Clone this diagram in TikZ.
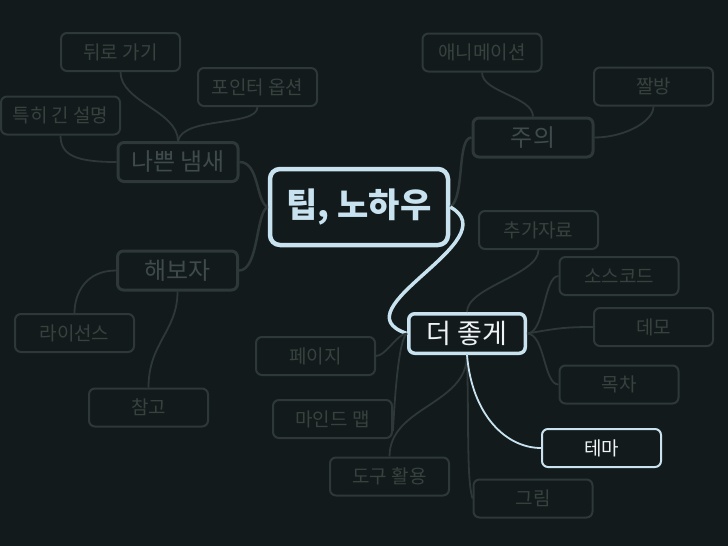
\documentclass[tikz,border=0pt]{standalone}
\usepackage{fontspec}
\setmainfont{Noto Sans CJK KR}
\definecolor{bgc}{HTML}{131A1B}
\definecolor{dimline}{HTML}{2E3839}
\definecolor{dimtexta}{HTML}{3E4A4B}
\definecolor{dimtextb}{HTML}{37423F}
\definecolor{lightb}{HTML}{C8E3EF}
\definecolor{whitet}{HTML}{EEF4F6}
\begin{document}
\begin{tikzpicture}[x=1pt,y=-1pt,
  lvtwo/.style={draw=dimline, line width=2pt, rounded corners=6pt, fill=bgc, text=dimtextb,
    minimum width=119pt, minimum height=38pt, inner sep=0pt, font=\fontsize{19}{22}\selectfont},
  lvone/.style={draw=dimline, line width=3pt, rounded corners=6pt, fill=bgc, text=dimtexta,
    minimum width=120pt, minimum height=39pt, inner sep=0pt, font=\fontsize{24}{27}\selectfont},
  rootbox/.style={draw=lightb, line width=4.5pt, rounded corners=10pt, fill=bgc, text=lightb,
    minimum width=178pt, minimum height=76pt, inner sep=0pt, font=\fontsize{34}{38}\selectfont\bfseries},
  activeone/.style={lvone, draw=lightb, line width=3.5pt, text=whitet,
    minimum width=116.5pt, minimum height=39.5pt, font=\fontsize{27}{30}\selectfont},
  activetwo/.style={lvtwo, draw=lightb, line width=2pt, text=whitet},
  linkone/.style={draw=dimline, line width=2.5pt},
  linktwo/.style={draw=dimline, line width=1.8pt},
  linkact/.style={draw=lightb, line width=3.5pt},
  linkacttwo/.style={draw=lightb, line width=1.8pt}
]
\useasboundingbox (0,0) rectangle (728,546);
\fill[bgc] (0,0) rectangle (728,546);

% nodes
\node[rootbox] (root) at (359,207) {팁, 노하우};
\node[lvone] (bad) at (178,162) {나쁜 냄새};
\node[lvone] (try) at (177.5,270.5) {해보자};
\node[lvone] (caution) at (533,137.5) {주의};
\node[activeone] (better) at (467,333.5) {더 좋게};

\node[lvtwo] (back) at (120.5,52) {뒤로 가기};
\node[lvtwo] (ptr) at (257.5,87) {포인터 옵션};
\node[lvtwo] (long) at (60.5,115.5) {특히 긴 설명};
\node[lvtwo] (anim) at (482,52.5) {애니메이션};
\node[lvtwo] (zzal) at (653.5,86.5) {짤방};
\node[lvtwo] (lic) at (74.5,333) {라이선스};
\node[lvtwo] (ref) at (148.5,407.5) {참고};
\node[lvtwo] (page) at (315.5,356) {페이지};
\node[lvtwo] (mind) at (332.5,419) {마인드 맵};
\node[lvtwo] (tool) at (389.5,476.5) {도구 활용};
\node[lvtwo] (extra) at (538.5,230) {추가자료};
\node[lvtwo] (src) at (619,276) {소스코드};
\node[lvtwo] (demo) at (653.5,327) {데모};
\node[lvtwo] (toc) at (619,384.5) {목차};
\node[activetwo] (theme) at (601.5,448) {테마};
\node[lvtwo] (pic) at (533,498.5) {그림};

% level-1 links
\draw[linkone] (root.west) .. controls +(-12,-5) and +(20,0) .. (bad.east);
\draw[linkone] (root.west) .. controls +(-12,5) and +(20,0) .. (try.east);
\draw[linkone] (root.east) .. controls +(15,-10) and +(-15,0) .. (caution.west);
\draw[linkact] (root.east) .. controls (510,240) and (335,310) .. (better.west);

% level-2 links
\draw[linktwo] (bad.north) .. controls +(0,-30) and +(0,30) .. (back.south);
\draw[linktwo] (bad.north) .. controls +(5,-25) and +(0,20) .. (ptr.south);
\draw[linktwo] (bad.west) .. controls +(-40,0) and +(0,20) .. (long.south);
\draw[linktwo] (caution.north) .. controls +(0,-20) and +(0,20) .. (anim.south);
\draw[linktwo] (caution.east) .. controls +(30,0) and +(0,15) .. (zzal.south);
\draw[linktwo] (try.west) .. controls +(-30,0) and +(0,-20) .. (lic.north);
\draw[linktwo] (try.south) .. controls +(0,40) and +(0,-45) .. (ref.north);
\draw[linktwo] (better.north) .. controls +(0,-25) and +(0,25) .. (extra.south);
\draw[linktwo] (better.east) .. controls +(18,0) and +(-15,0) .. (src.west);
\draw[linktwo] (better.east) .. controls +(30,-5) and +(-30,0) .. (demo.west);
\draw[linktwo] (better.east) .. controls +(18,0) and +(-15,0) .. (toc.west);
\draw[linktwo] (better.west) .. controls +(-10,0) and +(10,0) .. (page.east);
\draw[linktwo] (better.west) .. controls +(-6,3) and +(3,-60) .. ([yshift=8pt]mind.south east);
\draw[linktwo] (better.south) .. controls +(0,50) and +(0,-50) .. (tool.north);
\draw[linktwo] (better.south) .. controls +(2,70) and +(-6,-20) .. (pic.west);
\draw[linkacttwo] (better.south) .. controls +(5,60) and +(-35,0) .. (theme.west);
\end{tikzpicture}
\end{document}
